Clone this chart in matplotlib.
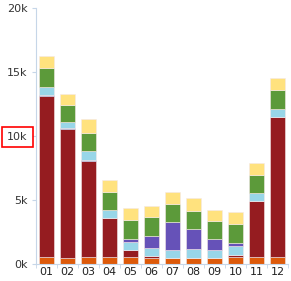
import numpy as np
import matplotlib
matplotlib.use("Agg")
import matplotlib.pyplot as plt

months = ["01", "02", "03", "04", "05", "06", "07", "08", "09", "10", "11", "12"]

# stacked series, bottom to top (values in thousands)
orange = [0.58, 0.48, 0.58, 0.58, 0.56, 0.45, 0.45, 0.45, 0.45, 0.56, 0.58, 0.58]
red = [12.52, 10.02, 7.44, 2.97, 0.54, 0.15, 0.0, 0.0, 0.0, 0.12, 4.34, 10.85]
dark_blue = [0.10, 0.08, 0.10, 0.0, 0.0, 0.0, 0.0, 0.0, 0.0, 0.0, 0.0, 0.07]
light_blue = [0.60, 0.52, 0.68, 0.65, 0.64, 0.66, 0.67, 0.73, 0.67, 0.73, 0.65, 0.60]
purple = [0.0, 0.0, 0.0, 0.0, 0.21, 0.93, 2.15, 1.52, 0.83, 0.20, 0.0, 0.0]
green = [1.50, 1.30, 1.45, 1.44, 1.48, 1.44, 1.44, 1.45, 1.40, 1.51, 1.39, 1.45]
yellow = [0.90, 0.85, 1.03, 0.91, 0.97, 0.93, 0.93, 1.01, 0.85, 0.95, 0.91, 0.93]

y_ticks = [0, 5, 10, 15, 20]
y_labels = ["0k", "5k", "10k", "15k", "20k"]

series = [orange, red, dark_blue, light_blue, purple, green, yellow]
colors = ["#dd5a0a", "#951c20", "#2b3a9e", "#98d6e8", "#6652b8", "#5c9a3a", "#ffe27e"]

fig = plt.figure(figsize=(2.91, 2.81), dpi=100)
ax = fig.add_axes([36 / 291, 17 / 281, 252 / 291, 256.5 / 281])

x = np.arange(len(months))
bottom = np.zeros(len(months))
for vals, col in zip(series, colors):
    vals = np.array(vals)
    ax.bar(x, vals, width=0.67, bottom=bottom, color=col,
           edgecolor="#f4e8e8", linewidth=0.4)
    bottom += vals

ax.set_xlim(-0.5, 11.5)
ax.set_ylim(0, 20)

axis_col = "#c6d6e8"
for side in ["top", "right"]:
    ax.spines[side].set_visible(False)
ax.spines["left"].set_color(axis_col)
ax.spines["bottom"].set_color(axis_col)

ax.set_xticks(x)
ax.set_xticklabels(months, fontsize=8, color="#222222")
ax.set_xticks(np.arange(-0.5, 12, 1), minor=True)
ax.tick_params(axis="x", which="major", length=0, pad=2)
ax.tick_params(axis="x", which="minor", length=3, color=axis_col)

ax.set_yticks(y_ticks)
ax.set_yticklabels(y_labels, fontsize=8, color="#333333")
ax.tick_params(axis="y", length=3, color=axis_col, pad=3)

# red box around the 10k label
for lbl in ax.get_yticklabels():
    if lbl.get_text() == "10k":
        lbl.set_bbox(dict(facecolor="white", edgecolor="red", linewidth=1.2, pad=3.8))

fig.savefig("out.png", dpi=100)
